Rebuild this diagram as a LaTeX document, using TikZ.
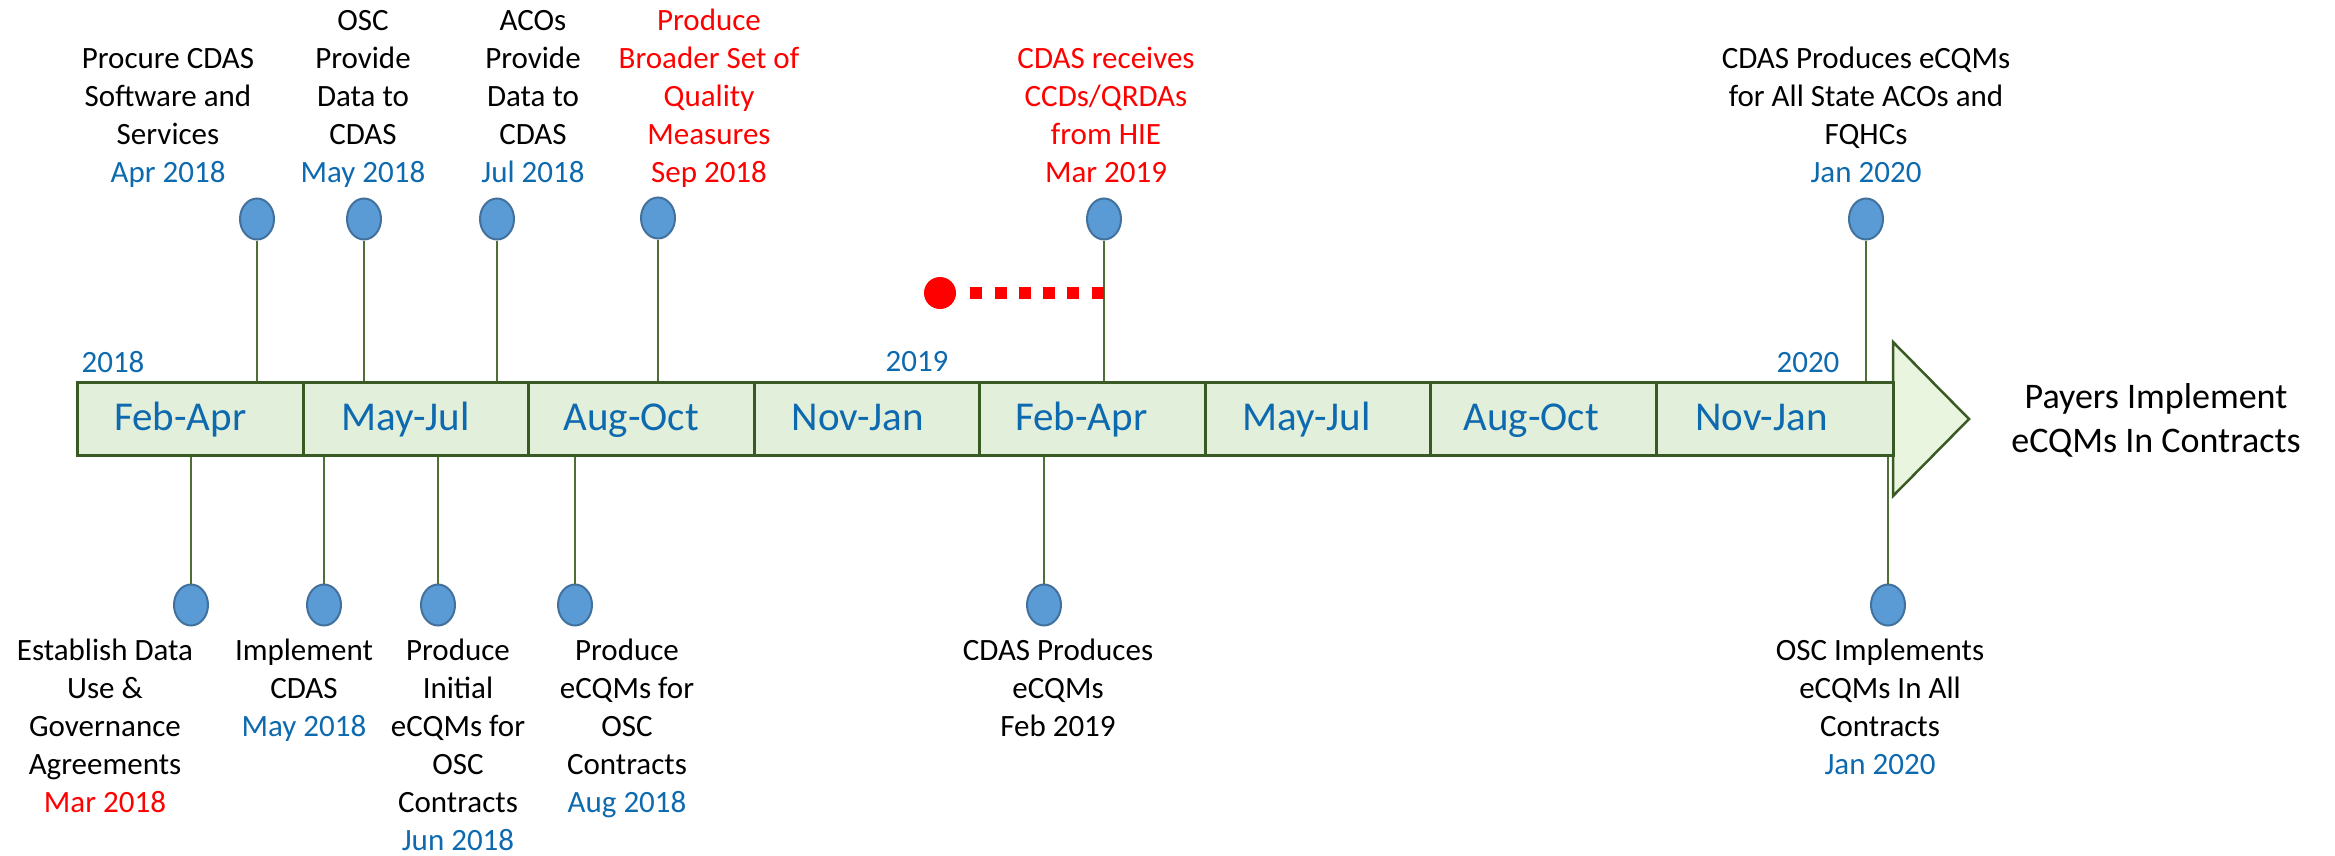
\documentclass[tikz,border=0pt]{standalone}
\usepackage{fontspec}
\setmainfont{Carlito}
\usetikzlibrary{shapes.geometric}
\definecolor{barfill}{HTML}{E2EFDA}
\definecolor{barline}{HTML}{3A5A24}
\definecolor{headfill}{HTML}{EAF5E0}
\definecolor{stemc}{HTML}{4F6F35}
\definecolor{dotfill}{HTML}{5B9BD5}
\definecolor{dotline}{HTML}{41719C}
\definecolor{tblue}{HTML}{0E6AAF}
\definecolor{tred}{HTML}{FF0000}
\begin{document}
\begin{tikzpicture}[x=1pt,y=-1pt,
  seg/.style={rectangle,draw=barline,fill=barfill,line width=3pt,minimum height=73pt,inner sep=0pt},
  mon/.style={text=tblue,font=\fontsize{41}{49}\selectfont,anchor=base,inner sep=0pt},
  yr/.style={text=tblue,font=\fontsize{31}{38}\selectfont,anchor=base,inner sep=0pt},
  evt/.style={font=\fontsize{31}{38}\selectfont,align=center,inner sep=0pt},
  evtop/.style={evt,anchor=south},
  evbot/.style={evt,anchor=north},
  dot/.style={ellipse,draw=dotline,fill=dotfill,line width=2pt,minimum width=34pt,minimum height=41pt,inner sep=0pt},
  stem/.style={draw=stemc,line width=1.3pt},
  head/.style={draw=barline,fill=headfill,line width=2.5pt,line join=miter}
]
\useasboundingbox (0,0) rectangle (2335,856);

% arrow head
\draw[head] (1893,342) -- (1969,419) -- (1893,496) -- cycle;

% bar segments
\node[seg,minimum width=225.5pt] (s1) at (190.25,419) {};
\node[seg,minimum width=225.5pt] (s2) at (415.75,419) {};
\node[seg,minimum width=225.5pt] (s3) at (641.25,419) {};
\node[seg,minimum width=225.5pt] (s4) at (866.75,419) {};
\node[seg,minimum width=225.5pt] (s5) at (1092.25,419) {};
\node[seg,minimum width=225.5pt] (s6) at (1317.75,419) {};
\node[seg,minimum width=225.5pt] (s7) at (1543.25,419) {};
\node[seg,minimum width=237pt] (s8) at (1774.5,419) {};

% month labels
\node[mon] (m1) at ([xshift=-10pt,yshift=-11pt]s1.center) {Feb-Apr};
\node[mon] (m2) at ([xshift=-10pt,yshift=-11pt]s2.center) {May-Jul};
\node[mon] (m3) at ([xshift=-10pt,yshift=-11pt]s3.center) {Aug-Oct};
\node[mon] (m4) at ([xshift=-9pt,yshift=-11pt]s4.center) {Nov-Jan};
\node[mon] (m5) at ([xshift=-11pt,yshift=-11pt]s5.center) {Feb-Apr};
\node[mon] (m6) at ([xshift=-11pt,yshift=-11pt]s6.center) {May-Jul};
\node[mon] (m7) at ([xshift=-12pt,yshift=-11pt]s7.center) {Aug-Oct};
\node[mon] (m8) at ([xshift=-13pt,yshift=-11pt]s8.center) {Nov-Jan};

% year labels
\node[yr] (y1) at (113,372) {2018};
\node[yr] (y2) at (917,371) {2019};
\node[yr] (y3) at (1808,372) {2020};

% top milestones
\node[dot] (t1) at (257,219) {};
\node[dot] (t2) at (364,219) {};
\node[dot] (t3) at (497,219) {};
\node[dot] (t4) at (658,218) {};
\node[dot] (t5) at (1104,219) {};
\node[dot] (t6) at (1866,219) {};
\foreach \t in {t1,t2,t3,t4,t5,t6}
  \draw[stem] (\t.south) -- (\t.south |- s1.north);

\node[evtop] (e1) at (168,194.4) {\strut Procure CDAS\\Software and\\Services\\\textcolor{tblue}{Apr 2018}\strut};
\node[evtop] (e2) at (363,194.4) {\strut OSC\\Provide\\Data to\\CDAS\\\textcolor{tblue}{May 2018}\strut};
\node[evtop] (e3) at (533,194.4) {\strut ACOs\\Provide\\Data to\\CDAS\\\textcolor{tblue}{Jul 2018}\strut};
\node[evtop,text=tred] (e4) at (709,194.4) {\strut Produce\\Broader Set of\\Quality\\Measures\\Sep 2018\strut};
\node[evtop,text=tred] (e5) at (1106,194.4) {\strut CDAS receives\\CCDs/QRDAs\\from HIE\\Mar 2019\strut};
\node[evtop] (e6) at (1866,194.4) {\strut CDAS Produces eCQMs\\for All State ACOs and\\FQHCs\\\textcolor{tblue}{Jan 2020}\strut};

% red marker
\node[circle,fill=tred,minimum size=32pt,inner sep=0pt] (rd) at (940,293) {};
\draw[tred,line width=12pt,dash pattern=on 12pt off 12.3pt] ([xshift=14pt]rd.east) -- (rd -| t5);

% bottom milestones
\node[dot] (b1) at (191,605) {};
\node[dot] (b2) at (324,605) {};
\node[dot] (b3) at (438,605) {};
\node[dot] (b4) at (575,605) {};
\node[dot] (b5) at (1044,605) {};
\node[dot] (b6) at (1888,605) {};
\foreach \b in {b1,b2,b3,b4,b5,b6}
  \draw[stem] (\b.north) -- (\b.north |- s1.south);

\node[evbot] (f1) at (105,633.4) {\strut Establish Data\\Use \&\\Governance\\Agreements\\\textcolor{tred}{Mar 2018}\strut};
\node[evbot] (f2) at (304,633.4) {\strut Implement\\CDAS\\\textcolor{tblue}{May 2018}\strut};
\node[evbot] (f3) at (458,633.4) {\strut Produce\\Initial\\eCQMs for\\OSC\\Contracts\\\textcolor{tblue}{Jun 2018}\strut};
\node[evbot] (f4) at (627,633.4) {\strut Produce\\eCQMs for\\OSC\\Contracts\\\textcolor{tblue}{Aug 2018}\strut};
\node[evbot] (f5) at (1058,633.4) {\strut CDAS Produces\\eCQMs\\Feb 2019\strut};
\node[evbot] (f6) at (1880,633.4) {\strut OSC Implements\\eCQMs In All\\Contracts\\\textcolor{tblue}{Jan 2020}\strut};

% end label
\node[font=\fontsize{36}{44}\selectfont,align=center,inner sep=0pt] (pay) at (2156,421.2) {\strut Payers Implement\\eCQMs In Contracts\strut};
\end{tikzpicture}
\end{document}
